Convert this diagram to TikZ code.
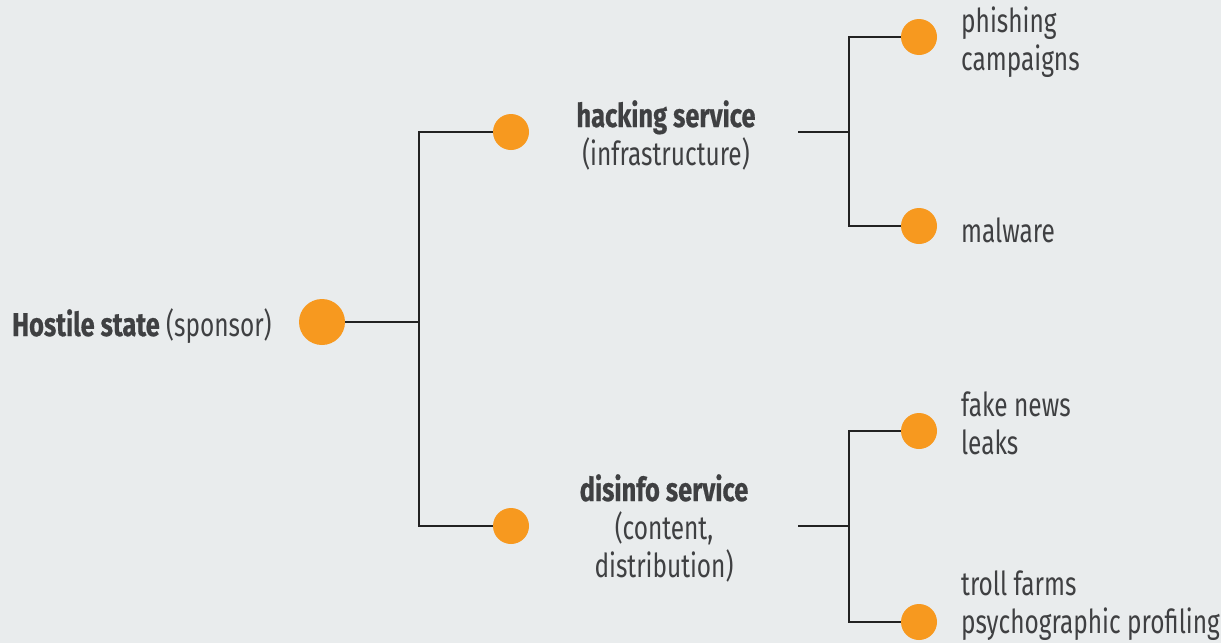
\documentclass[tikz,border=0pt]{standalone}
\usepackage{fontspec}
\setmainfont{Fira Sans}[FakeStretch=0.74,BoldFeatures={FakeStretch=0.77,FakeBold=0.6}]
\definecolor{bg}{HTML}{E9ECED}
\definecolor{dotorange}{HTML}{F7991F}
\definecolor{ink}{HTML}{3F4042}
\definecolor{wire}{HTML}{222222}
\begin{document}
\begin{tikzpicture}[x=1pt,y=-1pt,
  bigdot/.style={circle,fill=dotorange,inner sep=0pt,minimum size=46pt},
  dot/.style={circle,fill=dotorange,inner sep=0pt,minimum size=36pt},
  lbl/.style={inner sep=0pt,text=ink,font=\fontsize{33}{38}\selectfont},
  wirestyle/.style={draw=wire,line width=1.6pt}]
  \fill[bg] (0,0) rectangle (1221,643);
  \useasboundingbox (0,0) rectangle (1221,643);

  % root
  \node[bigdot] (root) at (322,322) {};
  \node[lbl,anchor=base west] (rootlbl) at (12,336) {\textbf{Hostile state} (sponsor)};
  \coordinate (j1) at (419,322);

  % second level (multi-line labels are anchored on their last line)
  \node[dot] (hk) at (511,132) {};
  \node[dot] (ds) at (511,526) {};
  \node[lbl,anchor=base,align=center] (hklbl) at (666,165) {\textbf{hacking service}\\(infrastructure)};
  \node[lbl,anchor=base,align=center] (dslbl) at (664,577) {\textbf{disinfo service}\\(content,\\distribution)};
  \coordinate (hkout) at (798,132);
  \coordinate (dsout) at (798,526);
  \coordinate (j2) at (849,132);
  \coordinate (j3) at (849,526);

  % leaves
  \node[dot] (ph) at (919,37) {};
  \node[dot] (mw) at (919,226) {};
  \node[dot] (fk) at (919,431) {};
  \node[dot] (tr) at (919,622) {};
  \node[lbl,anchor=base west,align=left] (phlbl) at (961,70) {phishing\\campaigns};
  \node[lbl,anchor=base west] (mwlbl) at (961,242) {malware};
  \node[lbl,anchor=base west,align=left] (fklbl) at (961,454) {fake news\\leaks};
  \node[lbl,anchor=base west,align=left] (trlbl) at (961,633) {troll farms\\psychographic profiling};

  % connectors
  \draw[wirestyle] (root) -- (j1);
  \draw[wirestyle] (hk.west) -| (j1) |- (ds.west);
  \draw[wirestyle] (hkout) -- (j2);
  \draw[wirestyle] (ph.west) -| (j2) |- (mw.west);
  \draw[wirestyle] (dsout) -- (j3);
  \draw[wirestyle] (fk.west) -| (j3) |- (tr.west);
\end{tikzpicture}
\end{document}
